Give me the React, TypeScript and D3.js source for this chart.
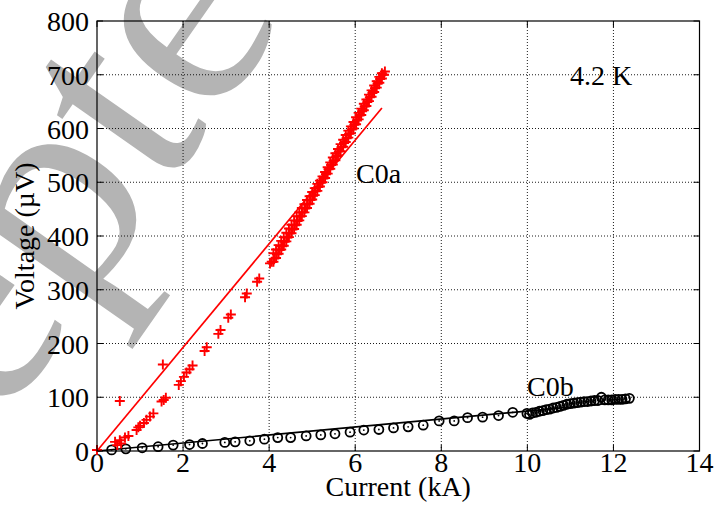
import React from "react";
import * as d3 from "d3";

const xTicks = [0, 2, 4, 6, 8, 10, 12, 14];
const yTicks = [0, 100, 200, 300, 400, 500, 600, 700, 800];

// C0a measured points (current kA, voltage µV)
const c0aLow: [number, number][] = [
  [0.0, 2], [0.42, 17], [0.47, 11], [0.53, 20], [0.56, 14], [0.65, 25], [0.73, 28],
  [0.53, 93], [0.92, 39], [0.96, 44], [1.0, 47], [1.09, 52], [1.15, 58], [1.23, 64],
  [1.31, 70], [1.5, 92], [1.55, 95], [1.6, 99], [1.53, 161], [1.9, 123], [1.95, 130],
  [2.02, 138], [2.08, 146], [2.15, 152], [2.22, 159], [2.5, 186], [2.55, 193],
  [2.82, 218], [2.87, 225], [3.05, 248], [3.11, 254], [3.44, 286], [3.48, 293],
  [3.72, 315], [3.77, 321], [4.02, 349],
];
const c0aHighA: [number, number][] = [
  [4.06, 352], [4.12, 358], [4.18, 366], [4.24, 374], [4.3, 381], [4.36, 389], [4.42, 397],
  [4.48, 405], [4.54, 412], [4.6, 420], [4.66, 428], [4.72, 436], [4.78, 444], [4.84, 451],
  [4.9, 459], [4.96, 467], [5.02, 475], [5.08, 483], [5.14, 491], [5.2, 499], [5.26, 507],
  [5.32, 515], [5.38, 524], [5.44, 532], [5.5, 540], [5.56, 548], [5.62, 557], [5.68, 565],
  [5.74, 573], [5.8, 582], [5.86, 590], [5.92, 598], [5.98, 607], [6.04, 615], [6.1, 624],
  [6.16, 632], [6.22, 641], [6.28, 649], [6.34, 658], [6.4, 666], [6.46, 675], [6.52, 683],
  [6.58, 692], [6.64, 700], [6.69, 706],
];
const c0aHighB: [number, number][] = [
  [4.1, 368], [4.16, 375], [4.22, 383], [4.28, 391], [4.34, 398], [4.4, 406], [4.46, 414],
  [4.52, 421], [4.58, 429], [4.64, 437], [4.7, 444], [4.76, 452], [4.82, 459], [4.88, 467],
  [4.94, 474], [5.0, 482], [5.06, 489], [5.12, 497], [5.18, 503], [5.24, 511], [5.3, 519],
  [5.36, 528], [5.42, 537], [5.48, 546], [5.54, 554], [5.6, 562], [5.66, 571], [5.72, 579],
  [5.78, 588], [5.84, 596], [5.9, 604], [5.96, 612], [6.02, 621], [6.08, 629], [6.14, 637],
  [6.2, 646], [6.26, 654], [6.32, 663], [6.38, 671], [6.44, 680], [6.5, 688], [6.56, 696],
  [6.62, 703],
];
const c0aHighC: [number, number][] = [
  [4.1, 352], [4.16, 359], [4.22, 367], [4.28, 375], [4.34, 382], [4.4, 390], [4.46, 398],
  [4.52, 405], [4.58, 413], [4.64, 421], [4.7, 429], [4.76, 437], [4.82, 444], [4.88, 452],
  [4.94, 460], [5.0, 468], [5.06, 476], [5.12, 484], [5.18, 492], [5.24, 500], [5.3, 508],
  [5.36, 516], [5.42, 525], [5.48, 533], [5.54, 541], [5.6, 550], [5.66, 558], [5.72, 566],
  [5.78, 575], [5.84, 583], [5.9, 591], [5.96, 600], [6.02, 608], [6.08, 617], [6.14, 625],
  [6.2, 634], [6.26, 642], [6.32, 651], [6.38, 659], [6.44, 668], [6.5, 676], [6.56, 685],
  [6.62, 693], [6.67, 700],
];
const c0aFit: [number, number][] = [[0, 0], [6.62, 638]];

// C0b measured points
const c0b: [number, number][] = [
  [0.34, 2], [0.67, 4], [1.05, 6], [1.42, 8], [1.77, 11], [2.15, 12], [2.45, 14],
  [2.97, 16], [3.21, 17], [3.55, 19], [3.89, 22], [4.2, 25], [4.5, 25], [4.86, 28],
  [5.2, 30], [5.53, 32], [5.88, 35], [6.2, 39], [6.55, 40], [6.89, 43], [7.23, 45],
  [7.58, 48], [7.95, 56], [8.3, 56], [8.61, 62], [8.96, 63], [9.33, 66], [9.66, 72],
  [9.99, 70], [10.05, 68], [10.12, 71], [10.2, 72], [10.28, 74], [10.36, 75], [10.44, 77],
  [10.52, 78], [10.6, 80], [10.68, 81], [10.76, 83], [10.84, 85], [10.92, 87], [11.0, 88],
  [11.08, 89], [11.16, 90], [11.24, 91], [11.32, 92], [11.4, 92], [11.48, 93], [11.56, 94],
  [11.64, 94], [11.72, 100], [11.8, 95], [11.88, 95], [11.96, 95], [12.04, 96], [12.12, 96],
  [12.2, 96], [12.28, 97], [12.37, 98],
];
const c0bFit: [number, number][] = [[0, 0], [12.37, 92]];

const FONT = '"Liberation Serif", "Times New Roman", serif';

export default function App() {
  const W = 715, H = 508;
  const x = d3.scaleLinear().domain([0, 14]).range([97, 699.5]);
  const y = d3.scaleLinear().domain([0, 800]).range([451, 21]);
  const [x0, x1] = x.range();
  const [y0, y1] = y.range();
  const line = d3.line<[number, number]>().x((d) => x(d[0])).y((d) => y(d[1]));
  const plus = (d: [number, number], i: number, k: string) => {
    const cx = x(d[0]), cy = y(d[1]);
    return (
      <path key={k + i} d={`M${cx - 5},${cy}H${cx + 5}M${cx},${cy - 5}V${cy + 5}`} stroke="#ff0000" strokeWidth={1.9} fill="none" />
    );
  };
  const tl = 6;
  return (
    <svg width={W} height={H} style={{ position: "fixed", left: 0, top: 0, background: "#fff" }} fontFamily={FONT}>
      <rect width={W} height={H} fill="#fff" />
      {/* watermark */}
      <text transform="translate(-276,821) rotate(-55)" fontSize={300} fill="#b4b4b4" fontFamily={FONT}>Accepted</text>
      {/* grid */}
      {xTicks.slice(1, -1).map((t) => (
        <line key={"gx" + t} x1={x(t)} x2={x(t)} y1={y0} y2={y1} stroke="#000" strokeWidth={0.9} strokeDasharray="1 2" />
      ))}
      {yTicks.slice(1, -1).map((t) => (
        <line key={"gy" + t} x1={x0} x2={x1} y1={y(t)} y2={y(t)} stroke="#000" strokeWidth={0.9} strokeDasharray="1 2" />
      ))}
      {/* ticks */}
      {xTicks.map((t) => (
        <g key={"tx" + t}>
          <line x1={x(t)} x2={x(t)} y1={y0} y2={y0 - tl} stroke="#000" strokeWidth={1} />
          <line x1={x(t)} x2={x(t)} y1={y1} y2={y1 + tl} stroke="#000" strokeWidth={1} />
          <text x={x(t)} y={y0 + 21} fontSize={28} textAnchor="middle" fill="#000">{t}</text>
        </g>
      ))}
      {yTicks.map((t) => (
        <g key={"ty" + t}>
          <line x1={x0} x2={x0 + tl} y1={y(t)} y2={y(t)} stroke="#000" strokeWidth={1} />
          <line x1={x1} x2={x1 - tl} y1={y(t)} y2={y(t)} stroke="#000" strokeWidth={1} />
          <text x={89} y={y(t) + 10} fontSize={28} textAnchor="end" fill="#000">{t}</text>
        </g>
      ))}
      {/* data */}
      <path d={line(c0bFit) || ""} stroke="#000" strokeWidth={1.6} fill="none" />
      {c0b.map((d, i) => (
        <g key={"c" + i}>
          <circle cx={x(d[0])} cy={y(d[1])} r={4.5} fill="none" stroke="#000" strokeWidth={1.8} />
          <circle cx={x(d[0])} cy={y(d[1])} r={0.9} fill="#000" />
        </g>
      ))}
      <path d={line(c0aFit) || ""} stroke="#ff0000" strokeWidth={1.7} fill="none" />
      {c0aLow.map((d, i) => plus(d, i, "l"))}
      {c0aHighA.map((d, i) => plus(d, i, "a"))}
      {c0aHighB.map((d, i) => plus(d, i, "b"))}
      {c0aHighC.map((d, i) => plus(d, i, "c"))}
      {/* box */}
      <rect x={x0} y={y1} width={x1 - x0} height={y0 - y1} fill="none" stroke="#000" strokeWidth={1.2} />
      {/* labels */}
      <text x={(x0 + x1) / 2} y={496} fontSize={28} textAnchor="middle" fill="#000">Current (kA)</text>
      <text transform={`translate(34,${(y0 + y1) / 2}) rotate(-90)`} fontSize={28} textAnchor="middle" fill="#000">Voltage (µV)</text>
      <text x={570} y={85} fontSize={28} fill="#000">4.2 K</text>
      <text x={356} y={183} fontSize={28} fill="#000">C0a</text>
      <text x={527} y={396} fontSize={28} fill="#000">C0b</text>
    </svg>
  );
}
